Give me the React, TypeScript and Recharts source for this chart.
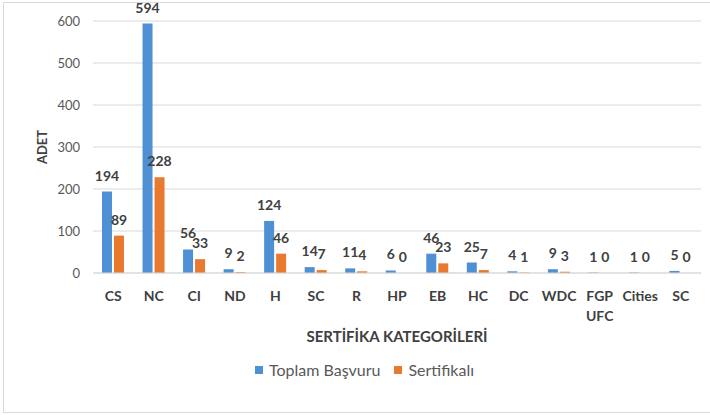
import React from "react";
import { BarChart, Bar, CartesianGrid, XAxis, YAxis, LabelList } from "recharts";

const categories = ["CS", "NC", "CI", "ND", "H", "SC", "R", "HP", "EB", "HC", "DC", "WDC", "FGP UFC", "Cities", "SC"];
const toplamBasvuru = [194, 594, 56, 9, 124, 14, 11, 6, 46, 25, 4, 9, 1, 1, 5];
const sertifikali = [89, 228, 33, 2, 46, 7, 4, 0, 23, 7, 1, 3, 0, 0, 0];
const yTicks = [0, 100, 200, 300, 400, 500, 600];

const data = categories.map((name, i) => ({
    name,
    toplam: toplamBasvuru[i],
    sertifikali: sertifikali[i],
}));

const FONT = "Lato, 'Open Sans', sans-serif";
const BLUE = "#4f8fd3";
const ORANGE = "#e8792f";
const TEXT = "#404040";

// x ekseni etiketleri: boşlukla ayrılanlar iki satıra bölünür
const CategoryTick = (props: any) => {
    const { x, y, payload } = props;
    const lines = String(payload.value).split(" ");
    return (
        <text x={x} y={y} textAnchor="middle" fill={TEXT} fontFamily={FONT} fontSize={14} fontWeight={700}>
            {lines.map((line, i) => (
                <tspan key={i} x={x} dy={20}>{line}</tspan>
            ))}
        </text>
    );
};

// sıfır değerlerin de yazılması için string'e çevir
const asText = (v: any) => String(v);

const App: React.FC = () => {
    return (
        <div style={{ position: "absolute", left: 0, top: 0, width: 710, height: 415, background: "#fff", fontFamily: FONT }}>
            <div style={{ position: "absolute", left: 3, top: 2, width: 710, height: 411, border: "1px solid #d9d9d9", boxSizing: "border-box" }} />

            <BarChart
                width={710}
                height={415}
                data={data}
                margin={{ top: 21, right: 9, left: 0, bottom: 72 }}
                barSize={10}
                barGap={2}
            >
                <CartesianGrid vertical={false} stroke="#d9d9d9" />
                <XAxis
                    dataKey="name"
                    height={70}
                    tickLine={false}
                    axisLine={{ stroke: "#d9d9d9" }}
                    tick={<CategoryTick />}
                    interval={0}
                    label={{
                        value: "SERTİFİKA KATEGORİLERİ",
                        position: "insideBottom",
                        offset: 1,
                        fill: TEXT,
                        fontSize: 15,
                        fontWeight: 700,
                        fontFamily: FONT,
                    }}
                />
                <YAxis
                    width={93}
                    domain={[0, 600]}
                    ticks={yTicks}
                    tickLine={false}
                    axisLine={false}
                    tickMargin={7}
                    tick={{ fill: "#595959", fontSize: 13, fontFamily: FONT }}
                    label={({ viewBox }: any) => (
                        <text
                            x={42}
                            y={viewBox.y + viewBox.height / 2}
                            transform={`rotate(-90, 42, ${viewBox.y + viewBox.height / 2})`}
                            textAnchor="middle"
                            dominantBaseline="central"
                            fill={TEXT}
                            fontSize={13}
                            fontWeight={700}
                            fontFamily={FONT}
                        >
                            ADET
                        </text>
                    )}
                />
                <Bar dataKey="toplam" name="Toplam Başvuru" fill={BLUE} minPointSize={0.01} isAnimationActive={false}>
                    <LabelList dataKey="toplam" position="top" offset={11} formatter={asText} fill={TEXT} fontSize={14} fontWeight={700} fontFamily={FONT} />
                </Bar>
                <Bar dataKey="sertifikali" name="Sertifikalı" fill={ORANGE} minPointSize={0.01} isAnimationActive={false}>
                    <LabelList dataKey="sertifikali" position="top" offset={11} formatter={asText} fill={TEXT} fontSize={14} fontWeight={700} fontFamily={FONT} />
                </Bar>
            </BarChart>

            {/* lejant */}
            <div style={{ position: "absolute", left: 255, top: 360, display: "flex", alignItems: "center", fontSize: 16, color: "#595959", whiteSpace: "nowrap" }}>
                <div style={{ width: 8, height: 8, background: BLUE, marginRight: 6 }} />
                <span style={{ marginRight: 14 }}>Toplam Başvuru</span>
                <div style={{ width: 8, height: 8, background: ORANGE, marginRight: 6 }} />
                <span>Sertifikalı</span>
            </div>
        </div>
    );
};

export default App;
